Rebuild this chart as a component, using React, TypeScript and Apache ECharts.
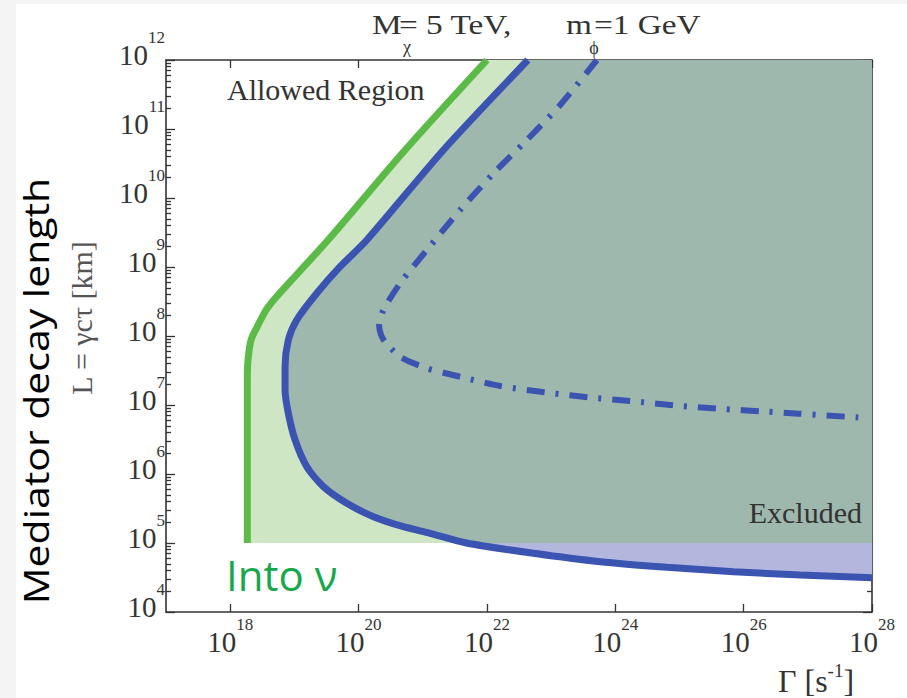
import React, { useEffect, useRef } from "react";
import * as echarts from "echarts";

// Axis decades (log10 exponents)
const xLabelExponents = [18, 20, 22, 24, 26, 28];
const yLabelExponents = [4, 5, 6, 7, 8, 9, 10, 11, 12];
const yMinorMultipliers = [2, 3, 4, 5, 6, 7, 8, 9];

// "Into nu" boundary (green): log10(Gamma / s^-1), log10(L / km)
const greenLogGamma = [18.267, 18.267, 18.278, 18.325, 18.419, 18.59, 19.058, 19.525, 20.726, 22.0];
const greenLogL = [5.0, 7.362, 7.652, 7.942, 8.13, 8.42, 8.913, 9.391, 10.696, 12.0];

// Excluded boundary (solid blue)
const blueLogGamma = [22.638, 21.323, 20.129, 19.712, 19.349, 19.037, 18.906, 18.855, 18.855, 18.906, 19.011, 19.193, 19.452, 19.817, 20.232, 20.699, 21.115, 21.68, 22.726, 23.766, 24.805, 25.843, 26.883, 28.0];
const blueLogL = [12.0, 10.696, 9.391, 9.004, 8.619, 8.232, 7.942, 7.555, 7.217, 6.88, 6.493, 6.106, 5.816, 5.575, 5.381, 5.236, 5.141, 5.0, 4.851, 4.729, 4.648, 4.584, 4.536, 4.497];

// Dash-dot boundary
const dashLogGamma = [23.714, 23.142, 22.623, 22.102, 21.583, 21.064, 20.648, 20.387, 20.32, 20.351, 20.414, 20.648, 21.064, 21.583, 22.207, 22.986, 23.609, 24.233, 24.961, 25.61, 26.364, 26.857, 27.787];
const dashLogL = [12.0, 11.348, 10.841, 10.358, 9.826, 9.246, 8.764, 8.377, 8.159, 8.014, 7.913, 7.7, 7.532, 7.41, 7.275, 7.174, 7.109, 7.058, 6.99, 6.946, 6.903, 6.874, 6.819];

const X_MIN = 17;
const X_MAX = 28;
const Y_MIN = 4;
const Y_MAX = 12;
const FLOOR = 5; // lower edge of the shaded regions (10^5 km)

const SERIF = "'Liberation Serif', 'Times New Roman', serif";
const SANS = "'Open Sans', 'Noto Sans', sans-serif";
const AXIS = "#333333";
const TEXT = "#333333";

const zip = (a: number[], b: number[]) => a.map((v, i) => [v, b[i]]);

const greenPts = zip(greenLogGamma, greenLogL);
const bluePts = zip(blueLogGamma, blueLogL);
const dashPts = zip(dashLogGamma, dashLogL);
const junction = blueLogL.indexOf(FLOOR);
const blueUpper = bluePts.slice(0, junction + 1);
const blueLower = bluePts.slice(junction);

const yMinor: number[] = [];
for (let n = Y_MIN; n < Y_MAX; n++) {
  for (const k of yMinorMultipliers) yMinor.push(n + Math.log10(k));
}

function polygonSeries(points: number[][], color: string, z: number) {
  return {
    type: "custom",
    coordinateSystem: "cartesian2d",
    xAxisIndex: 0,
    yAxisIndex: 0,
    data: [[X_MAX, Y_MAX]],
    clip: true,
    silent: true,
    z,
    renderItem: (_params: any, api: any) => ({
      type: "polygon",
      shape: { points: points.map((p) => api.coord(p)) },
      style: { fill: color },
      silent: true,
    }),
  };
}

const labelRich = {
  b: { fontFamily: SERIF, fontSize: 29, lineHeight: 52, color: TEXT },
  e: { fontFamily: SERIF, fontSize: 17, lineHeight: 14, verticalAlign: "top", color: TEXT },
};

function yAxisDef(position: "left" | "right", major: boolean) {
  return {
    type: "value",
    min: Y_MIN,
    max: Y_MAX,
    position,
    axisLine: { show: major, lineStyle: { color: AXIS, width: 1.6 } },
    axisTick: {
      show: true,
      inside: true,
      length: major ? 9 : 5,
      customValues: major ? yLabelExponents : yMinor,
      lineStyle: { color: AXIS, width: 1.3 },
    },
    axisLabel:
      major && position === "left"
        ? {
            show: true,
            customValues: yLabelExponents,
            margin: 1,
            padding: [0, 0, 10, 0],
            formatter: (v: number) => `{b|10}{e|${v}}`,
            rich: labelRich,
          }
        : { show: false },
    splitLine: { show: false },
  };
}

function xAxisDef(position: "bottom" | "top") {
  return {
    type: "value",
    min: X_MIN,
    max: X_MAX,
    position,
    axisLine: { show: true, onZero: false, lineStyle: { color: AXIS, width: 1.6 } },
    axisTick: {
      show: true,
      inside: true,
      length: 8,
      customValues: xLabelExponents,
      lineStyle: { color: AXIS, width: 1.3 },
    },
    axisLabel:
      position === "bottom"
        ? {
            show: true,
            customValues: xLabelExponents,
            margin: 4,
            formatter: (v: number) => `{b|10}{e|${v}}`,
            rich: labelRich,
          }
        : { show: false },
    splitLine: { show: false },
  };
}

const TITLE_SCALE = 1.19;

const option = {
  animation: false,
  backgroundColor: "#f4f4f4",
  grid: { left: 166, top: 60, right: 35, bottom: 86, containLabel: false },
  xAxis: [xAxisDef("bottom"), xAxisDef("top")],
  yAxis: [yAxisDef("left", true), yAxisDef("left", false), yAxisDef("right", true), yAxisDef("right", false)],
  graphic: [
    { type: "rect", z: -10, silent: true, shape: { x: 16, y: 4, width: 891, height: 694 }, style: { fill: "#ffffff" } },
    // title
    { type: "text", x: 372, y: 25, scaleX: TITLE_SCALE, style: { text: "M", font: `28px ${SERIF}`, fill: TEXT, verticalAlign: "middle" } },
    { type: "text", x: 399, y: 25, scaleX: TITLE_SCALE, style: { text: "= 5 TeV,", font: `28px ${SERIF}`, fill: TEXT, verticalAlign: "middle" } },
    { type: "text", x: 407, y: 47, style: { text: "χ", font: `18px ${SERIF}`, fill: TEXT, align: "center", verticalAlign: "middle" } },
    { type: "text", x: 566, y: 25, scaleX: TITLE_SCALE, style: { text: "m", font: `28px ${SERIF}`, fill: TEXT, verticalAlign: "middle" } },
    { type: "text", x: 594, y: 25, scaleX: TITLE_SCALE, style: { text: "=1 GeV", font: `28px ${SERIF}`, fill: TEXT, verticalAlign: "middle" } },
    { type: "text", x: 594, y: 48, style: { text: "ϕ", font: `18px ${SERIF}`, fill: TEXT, align: "center", verticalAlign: "middle" } },
    // region labels
    { type: "text", x: 227, y: 89, z: 20, style: { text: "Allowed Region", font: `30px ${SERIF}`, fill: TEXT, verticalAlign: "middle" } },
    { type: "text", x: 862, y: 512, z: 20, style: { text: "Excluded", font: `30px ${SERIF}`, fill: TEXT, align: "right", verticalAlign: "middle" } },
    { type: "text", x: 226, y: 574, z: 20, style: { text: "Into ν", font: `42px ${SANS}`, fill: "#17a84b", verticalAlign: "middle" } },
    // axis names
    {
      type: "text",
      x: 778,
      y: 681,
      style: {
        text: "{a|Γ [s}{s|-1}{a|]}",
        fill: TEXT,
        verticalAlign: "middle",
        rich: {
          a: { fontFamily: SERIF, fontSize: 32, lineHeight: 40, fill: TEXT },
          s: { fontFamily: SERIF, fontSize: 19, lineHeight: 26, verticalAlign: "top", fill: TEXT },
        },
      },
    },
    {
      type: "text",
      x: 81,
      y: 318,
      rotation: Math.PI / 2,
      style: { text: "L = γcτ [km]", font: `30px ${SERIF}`, fill: "#555555", align: "center", verticalAlign: "middle" },
    },
    {
      type: "text",
      x: 35,
      y: 391,
      rotation: Math.PI / 2,
      scaleX: 1.17,
      style: { text: "Mediator decay length", font: `35px ${SANS}`, fill: "#000000", align: "center", verticalAlign: "middle" },
    },
  ],
  series: [
    polygonSeries([...greenPts, [X_MAX, Y_MAX], [X_MAX, FLOOR]], "#cfe6c4", 1),
    polygonSeries([...blueUpper, [X_MAX, FLOOR], [X_MAX, Y_MAX]], "#9fb8ad", 2),
    polygonSeries([...blueLower, [X_MAX, FLOOR]], "#b3b7dd", 2),
    {
      type: "line",
      data: greenPts,
      symbol: "none",
      smooth: 0.3,
      clip: true,
      silent: true,
      z: 5,
      lineStyle: { color: "#5cbb48", width: 7, cap: "butt" },
    },
    {
      type: "line",
      data: bluePts,
      symbol: "none",
      smooth: 0.25,
      clip: true,
      silent: true,
      z: 6,
      lineStyle: { color: "#3b53b1", width: 7 },
    },
    {
      type: "line",
      data: dashPts,
      symbol: "none",
      smooth: 0.25,
      clip: true,
      silent: true,
      z: 6,
      lineStyle: { color: "#3b53b1", width: 6, type: [18, 11, 3, 11] },
    },
  ],
};

export default function App() {
  const ref = useRef<HTMLDivElement>(null);
  useEffect(() => {
    if (!ref.current) return;
    const chart = echarts.init(ref.current, null, { renderer: "svg" });
    chart.setOption(option as any);
    return () => chart.dispose();
  }, []);
  return <div ref={ref} style={{ position: "fixed", left: 0, top: 0, width: 907, height: 698 }} />;
}
